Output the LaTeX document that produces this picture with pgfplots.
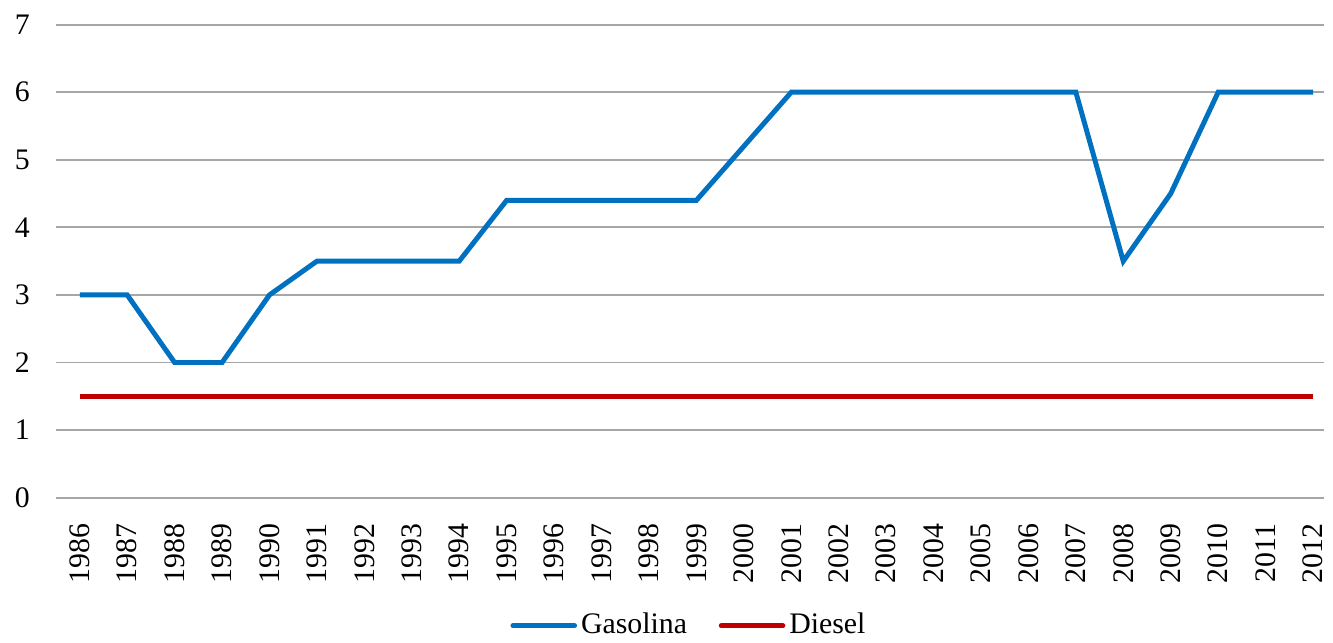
\documentclass[border=0pt]{standalone}
\usepackage{fontspec}
\setmainfont{Liberation Serif}
\usepackage{pgfplots}
\pgfplotsset{compat=1.18}
\definecolor{gasblue}{HTML}{0070C0}
\definecolor{dieselred}{HTML}{C00000}
\definecolor{gridgray}{HTML}{A6A6A6}
\begin{document}
\fontsize{15}{18}\selectfont
\begin{tikzpicture}
\begin{axis}[
  scale only axis,
  width=638pt,
  height=238pt,
  xmin=-0.5, xmax=26.23,
  ymin=0, ymax=7,
  axis line style={draw=none},
  tick style={draw=none},
  ytick={0,1,...,7},
  xtick={0,1,...,26},
  xticklabels={1986,1987,1988,1989,1990,1991,1992,1993,1994,1995,1996,1997,1998,1999,2000,2001,2002,2003,2004,2005,2006,2007,2008,2009,2010,2011,2012},
  xticklabel style={rotate=90, anchor=east, xshift=-8pt},
  yticklabel style={anchor=east, xshift=-8pt},
  /pgf/number format/assume math mode=true,
  ymajorgrids,
  grid style={gridgray, line width=1pt},
  tick label style={font=\fontsize{15}{18}\selectfont},
  legend style={
    at={(0.5,-0.235)}, anchor=north,
    draw=none, fill=none,
    legend columns=2,
    font=\fontsize{15}{18}\selectfont,
    /tikz/every even column/.append style={column sep=14pt},
    inner sep=0pt,
  },
  legend image code/.code={\draw[#1, line cap=round] (0pt,0pt) -- (31pt,0pt);},
  legend cell align=left,
]
\addplot[gasblue, line width=2.5pt] coordinates {
  (0,3) (1,3) (2,2) (3,2) (4,3) (5,3.5) (6,3.5) (7,3.5) (8,3.5)
  (9,4.4) (10,4.4) (11,4.4) (12,4.4) (13,4.4) (14,5.2) (15,6)
  (16,6) (17,6) (18,6) (19,6) (20,6) (21,6) (22,3.5) (23,4.5)
  (24,6) (25,6) (26,6)
};
\addlegendentry{Gasolina}
\addplot[dieselred, line width=2.5pt] coordinates {
  (0,1.5) (1,1.5) (2,1.5) (3,1.5) (4,1.5) (5,1.5) (6,1.5) (7,1.5) (8,1.5)
  (9,1.5) (10,1.5) (11,1.5) (12,1.5) (13,1.5) (14,1.5) (15,1.5)
  (16,1.5) (17,1.5) (18,1.5) (19,1.5) (20,1.5) (21,1.5) (22,1.5) (23,1.5)
  (24,1.5) (25,1.5) (26,1.5)
};
\addlegendentry{Diesel}
\end{axis}
\path ([xshift=-2.5pt,yshift=2.5pt]current bounding box.north west);
\end{tikzpicture}
\end{document}
